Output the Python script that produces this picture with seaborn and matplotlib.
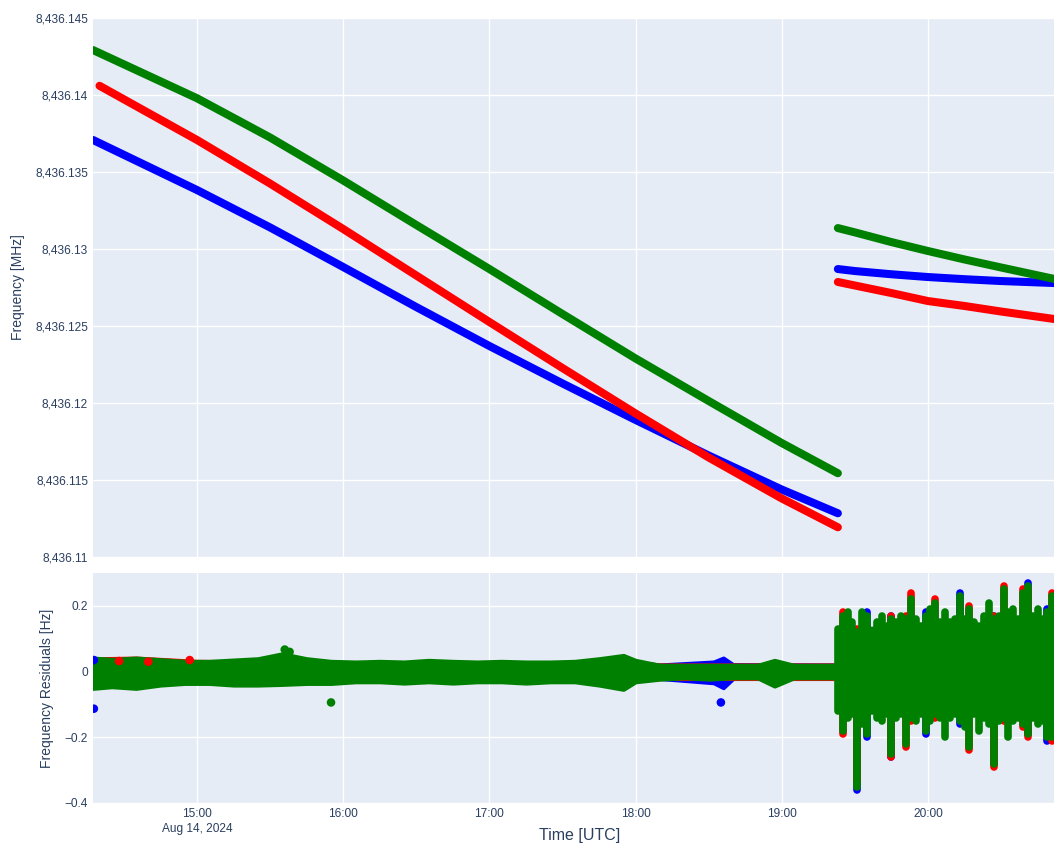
import pandas as pd
import numpy as np
import seaborn as sns
import matplotlib.pyplot as plt
import matplotlib.ticker as mticker

DAY = "2024-08-14 "

# ---- top panel: frequency tracks [MHz] ----
seg1_t = ["14:17:20", "15:00", "15:30", "16:00", "16:30", "17:00", "17:30", "18:00", "18:30", "19:00", "19:23"]
seg1_green = [8436.14292, 8436.13979, 8436.13724, 8436.13445, 8436.13156, 8436.12870, 8436.12578, 8436.12289, 8436.12013, 8436.11740, 8436.11544]
seg1_blue = [8436.13708, 8436.13383, 8436.13140, 8436.12883, 8436.12623, 8436.12370, 8436.12127, 8436.11890, 8436.11659, 8436.11438, 8436.11284]
seg1_red_t = ["14:20", "15:00", "15:30", "16:00", "16:30", "17:00", "17:30", "18:00", "18:30", "19:00", "19:23"]
seg1_red = [8436.14060, 8436.13708, 8436.13425, 8436.13130, 8436.12828, 8436.12526, 8436.12227, 8436.11932, 8436.11646, 8436.11380, 8436.11193]

seg2_t = ["19:23", "19:30", "19:45", "20:00", "20:15", "20:30", "20:52"]
seg2_green = [8436.13136, 8436.13108, 8436.13045, 8436.12987, 8436.12932, 8436.12880, 8436.12805]
seg2_blue = [8436.12870, 8436.12857, 8436.12836, 8436.12818, 8436.12804, 8436.12792, 8436.12779]
seg2_red = [8436.12786, 8436.12763, 8436.12714, 8436.12662, 8436.12630, 8436.12594, 8436.12545]

# ---- bottom panel: residuals [Hz] ----
# quiet part: band edges of the dense point cloud
quiet_t = ["14:17:20", "14:25", "14:35", "14:45", "14:55", "15:05", "15:15", "15:25", "15:35", "15:45",
           "15:55", "16:05", "16:15", "16:25", "16:35", "16:45", "16:55", "17:05", "17:15", "17:25",
           "17:35", "17:45", "17:55", "18:00", "18:10", "18:20", "18:30", "18:40", "18:50", "18:57",
           "19:05", "19:15", "19:23"]
quiet_green_hi = [0.042, 0.038, 0.042, 0.037, 0.032, 0.032, 0.036, 0.040, 0.055, 0.040,
                  0.032, 0.030, 0.032, 0.030, 0.035, 0.032, 0.030, 0.032, 0.030, 0.030,
                  0.032, 0.040, 0.050, 0.035, 0.020, 0.020, 0.020, 0.020, 0.020, 0.035,
                  0.020, 0.020, 0.020]
quiet_green_lo = [-0.052, -0.047, -0.052, -0.042, -0.037, -0.037, -0.042, -0.042, -0.040, -0.037,
                  -0.037, -0.032, -0.032, -0.036, -0.032, -0.036, -0.032, -0.032, -0.036, -0.032,
                  -0.032, -0.042, -0.055, -0.032, -0.024, -0.020, -0.024, -0.020, -0.020, -0.045,
                  -0.020, -0.020, -0.020]
quiet_red_t = ["14:20", "14:35", "15:00", "16:00", "17:00", "18:00", "18:10", "19:23"]
quiet_red_hi = [0.040, 0.042, 0.032, 0.028, 0.028, 0.028, 0.021, 0.021]
quiet_red_lo = [-0.040, -0.040, -0.030, -0.028, -0.028, -0.028, -0.022, -0.022]
quiet_blue_t = ["14:17:20", "15:00", "18:00", "18:10", "18:32", "18:36", "18:40", "19:23"]
quiet_blue_hi = [0.040, 0.028, 0.028, 0.021, 0.030, 0.042, 0.022, 0.021]
quiet_blue_lo = [-0.040, -0.028, -0.028, -0.022, -0.035, -0.050, -0.022, -0.022]

# noisy part (after 19:23): minutes after 19:00
core_min = [23, 40, 60, 80, 100, 112]
core_hi = [0.13, 0.14, 0.14, 0.14, 0.15, 0.15]
core_lo = [-0.11, -0.12, -0.12, -0.12, -0.13, -0.13]
noisy_min = [23, 25, 27, 29, 31, 33, 35, 37, 39, 41, 43, 45, 47, 49, 51, 53, 55, 57, 59, 61, 63, 65, 67,
             69, 71, 73, 75, 77, 79, 81, 83, 85, 87, 89, 91, 93, 95, 97, 99, 101, 103, 105, 107, 109, 111]
noisy_green_hi = [0.13, 0.17, 0.18, 0.15, 0.12, 0.18, 0.17, 0.12, 0.15, 0.17, 0.14, 0.16, 0.15, 0.17, 0.16,
                  0.22, 0.16, 0.14, 0.17, 0.19, 0.21, 0.15, 0.18, 0.15, 0.16, 0.23, 0.16, 0.19, 0.15, 0.14,
                  0.17, 0.21, 0.16, 0.17, 0.25, 0.18, 0.19, 0.16, 0.24, 0.26, 0.17, 0.19, 0.16, 0.18, 0.23]
noisy_green_lo = [-0.12, -0.18, -0.14, -0.13, -0.35, -0.16, -0.19, -0.12, -0.14, -0.15, -0.13, -0.25, -0.14,
                  -0.13, -0.22, -0.14, -0.15, -0.13, -0.18, -0.15, -0.13, -0.14, -0.20, -0.14, -0.13, -0.15,
                  -0.17, -0.23, -0.13, -0.18, -0.14, -0.16, -0.28, -0.15, -0.14, -0.20, -0.15, -0.14, -0.16,
                  -0.19, -0.14, -0.16, -0.15, -0.20, -0.20]
red_spike_min = [25, 31, 45, 51, 53, 63, 77, 87, 91, 99, 101, 111]
red_spike_hi = [0.18, 0.13, 0.17, 0.17, 0.24, 0.22, 0.20, 0.17, 0.26, 0.25, 0.25, 0.24]
red_spike_lo = [-0.19, -0.33, -0.26, -0.23, -0.15, -0.14, -0.24, -0.29, -0.15, -0.17, -0.20, -0.21]
blue_spike_min = [31, 35, 45, 59, 73, 87, 101, 109]
blue_spike_hi = [0.12, 0.18, 0.17, 0.18, 0.24, 0.17, 0.27, 0.19]
blue_spike_lo = [-0.36, -0.20, -0.26, -0.19, -0.16, -0.28, -0.19, -0.21]

# single stray points
out_green_t = ["15:36", "15:38", "15:55"]
out_green = [0.067, 0.060, -0.094]
out_red_t = ["14:57", "14:28", "14:40"]
out_red = [0.035, 0.032, 0.030]
out_blue_t = ["14:17:40", "14:17:40", "18:35"]
out_blue = [-0.113, 0.035, -0.094]

hour_ticks = ["15:00", "16:00", "17:00", "18:00", "19:00", "20:00"]
hour_labels = ["15:00\nAug 14, 2024", "16:00", "17:00", "18:00", "19:00", "20:00"]
freq_ticks = [8436.11, 8436.115, 8436.12, 8436.125, 8436.13, 8436.135, 8436.14, 8436.145]
res_ticks = [-0.4, -0.2, 0.0, 0.2]


def ts(times):
    return pd.to_datetime([DAY + t for t in times], format="mixed")


def after19(mins):
    return pd.Timestamp(DAY + "19:00") + pd.to_timedelta(mins, unit="min")


GREEN, RED, BLUE = "#008000", "#ff0000", "#0000ff"
TXT = "#2a3f5f"

sns.set_theme(style="darkgrid")
plt.rcParams["font.family"] = ["Liberation Sans", "DejaVu Sans"]
plt.rcParams["axes.facecolor"] = "#E5ECF6"

fig = plt.figure(figsize=(10.54, 8.5), dpi=100)
fig.patch.set_facecolor("white")
ax1 = fig.add_axes([0.0882, 0.3447, 0.9118, 0.6341])
ax2 = fig.add_axes([0.0882, 0.0553, 0.9118, 0.2706], sharex=ax1)

lw = 5.8
for t, v, c in [(seg1_t, seg1_blue, BLUE), (seg1_red_t, seg1_red, RED), (seg1_t, seg1_green, GREEN),
                (seg2_t, seg2_blue, BLUE), (seg2_t, seg2_red, RED), (seg2_t, seg2_green, GREEN)]:
    sns.lineplot(x=ts(t), y=v, ax=ax1, color=c, lw=lw, solid_capstyle="round",
                 solid_joinstyle="round", estimator=None, sort=False)

# residual clouds
for t, hi, lo, c in [(quiet_blue_t, quiet_blue_hi, quiet_blue_lo, BLUE),
                     (quiet_red_t, quiet_red_hi, quiet_red_lo, RED),
                     (quiet_t, quiet_green_hi, quiet_green_lo, GREEN)]:
    ax2.fill_between(ts(t), lo, hi, color=c, lw=2.5, edgecolor=c)

ax2.vlines(after19(blue_spike_min), blue_spike_lo, blue_spike_hi, colors=BLUE, linewidths=5.5, capstyle="round")
ax2.vlines(after19(red_spike_min), red_spike_lo, red_spike_hi, colors=RED, linewidths=5.5, capstyle="round")
ax2.fill_between(after19(core_min), core_lo, core_hi, color=GREEN, lw=0)
ax2.vlines(after19(noisy_min), noisy_green_lo, noisy_green_hi, colors=GREEN, linewidths=5.5, capstyle="round")

for t, v, c in [(out_blue_t, out_blue, BLUE), (out_red_t, out_red, RED), (out_green_t, out_green, GREEN)]:
    sns.scatterplot(x=ts(t), y=v, ax=ax2, color=c, s=38, edgecolor="none", zorder=3)

# axes styling
ax1.set_xlim(pd.Timestamp(DAY + "14:17:18"), pd.Timestamp(DAY + "20:51:42"))
ax1.set_ylim(8436.11, 8436.145)
ax2.set_ylim(-0.4, 0.3)

ax1.yaxis.set_major_locator(mticker.FixedLocator(freq_ticks))
ax1.yaxis.set_major_formatter(mticker.FuncFormatter(lambda v, _: f"{v:,.3f}".rstrip("0").rstrip(".")))
ax2.yaxis.set_major_locator(mticker.FixedLocator(res_ticks))
ax2.yaxis.set_major_formatter(mticker.FuncFormatter(
    lambda v, _: "0" if abs(v) < 1e-9 else f"{v:.1f}".replace("-", "\u2212")))

tick_pos = ts(hour_ticks)
ax2.set_xticks(tick_pos)
ax2.set_xticklabels(hour_labels, linespacing=1.35)
ax1.tick_params(labelbottom=False)

for ax in (ax1, ax2):
    ax.grid(True, color="white", lw=1)
    ax.set_axisbelow(True)
    for s in ax.spines.values():
        s.set_visible(False)
    ax.tick_params(length=0, labelsize=8.6, colors=TXT, pad=3.5)
    ax.set_xlabel("")
    ax.set_ylabel("")

fig.text(0.0171, 0.662, "Frequency [MHz]", rotation=90, ha="center", va="center", fontsize=10, color=TXT)
fig.text(0.0446, 0.190, "Frequency Residuals [Hz]", rotation=90, ha="center", va="center", fontsize=10, color=TXT)
fig.text(0.550, 0.008, "Time [UTC]", ha="center", va="bottom", fontsize=11.5, color=TXT)

plt.savefig("out.png", dpi=100)
